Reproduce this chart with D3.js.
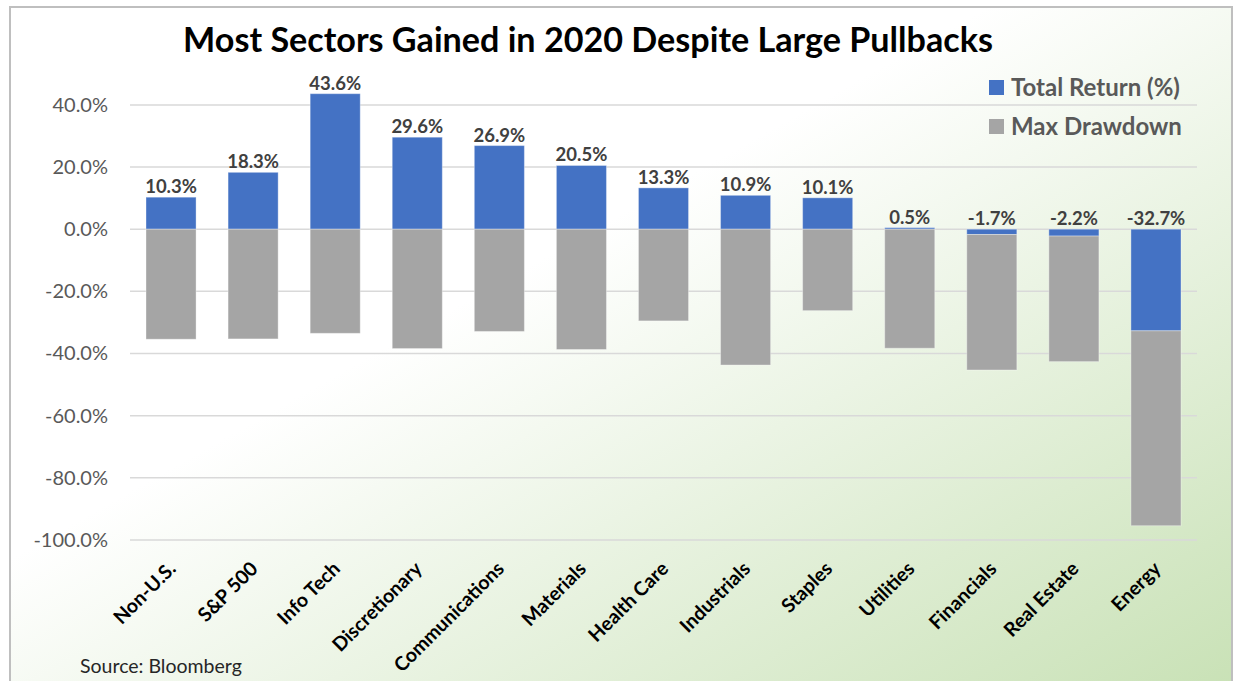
<!DOCTYPE html>
<html>
<head>
<meta charset="utf-8">
<script src="https://cdn.jsdelivr.net/npm/d3@7"></script>
<style>
  html, body { margin: 0; padding: 0; background: #fff; }
  svg { display: block; font-family: Lato, "Open Sans", sans-serif; }
</style>
</head>
<body>
<svg id="chart"></svg>
<script>
const categories = ["Non-U.S.", "S&P 500", "Info Tech", "Discretionary", "Communications", "Materials",
  "Health Care", "Industrials", "Staples", "Utilities", "Financials", "Real Estate", "Energy"];
// stacked segments: total return first, then the drawdown piece below it
const totalReturn = [10.3, 18.3, 43.6, 29.6, 26.9, 20.5, 13.3, 10.9, 10.1, 0.5, -1.7, -2.2, -32.7];
const maxDrawdown = [-35.4, -35.3, -33.5, -38.4, -32.9, -38.7, -29.5, -43.7, -26.2, -38.3, -43.6, -40.4, -62.7];
const seriesNames = ["Total Return (%)", "Max Drawdown"];
const yTicks = [-100, -80, -60, -40, -20, 0, 20, 40];

const width = 1239;
const height = 681;
const colors = ["#4472C4", "#A5A5A5"];

const svg = d3.select("#chart")
  .attr("width", width)
  .attr("height", height);

// background with the green corner
const defs = svg.append("defs");
const grad = defs.append("linearGradient")
  .attr("id", "bg")
  .attr("x1", 0).attr("y1", 0)
  .attr("x2", 1).attr("y2", 1);
grad.append("stop").attr("offset", 0).attr("stop-color", "#ffffff");
grad.append("stop").attr("offset", 0.4).attr("stop-color", "#ffffff");
grad.append("stop").attr("offset", 1).attr("stop-color", "#c8e1b5");

svg.append("rect")
  .attr("x", 10).attr("y", 7)
  .attr("width", 1222).attr("height", 690)
  .attr("fill", "url(#bg)")
  .attr("stroke", "#bfbfbf")
  .attr("stroke-width", 2);

// scales
const xScale = d3.scaleBand()
  .domain(categories)
  .range([130, 1197])
  .paddingInner(0.39)
  .paddingOuter(0.195);

const yScale = d3.scaleLinear()
  .domain([-100, 50])
  .range([540, 540 - 150 * 3.108]);

// grid lines
svg.append("g")
  .selectAll("line")
  .data(yTicks)
  .enter().append("line")
  .attr("x1", 130)
  .attr("x2", 1197)
  .attr("y1", d => yScale(d))
  .attr("y2", d => yScale(d))
  .attr("stroke", "#d9d9d9")
  .attr("stroke-width", 1.5);

// y axis labels
const yAxis = svg.append("g")
  .attr("transform", "translate(130, 0)")
  .call(d3.axisLeft(yScale).tickValues(yTicks).tickSize(0).tickPadding(22)
    .tickFormat(d => d.toFixed(1) + "%"));
yAxis.select(".domain").remove();
yAxis.selectAll(".tick text")
  .attr("fill", "#595959")
  .style("font-family", "Lato, sans-serif")
  .style("font-size", "20px");

// stacked bars
const table = categories.map((c, i) => ({ cat: c, total: totalReturn[i], drawdown: maxDrawdown[i] }));
const stack = d3.stack()
  .keys(["total", "drawdown"])
  .offset(d3.stackOffsetDiverging);
const layers = stack(table);

svg.append("g")
  .selectAll("g")
  .data(layers)
  .enter().append("g")
  .attr("fill", (d, i) => colors[i])
  .selectAll("rect")
  .data(d => d)
  .enter().append("rect")
  .attr("x", d => xScale(d.data.cat))
  .attr("width", xScale.bandwidth())
  .attr("y", d => yScale(Math.max(d[0], d[1])))
  .attr("height", d => Math.abs(yScale(d[0]) - yScale(d[1])))
  .attr("stroke", "rgba(255,255,255,0.35)")
  .attr("stroke-width", 1);

// data labels for total return
svg.append("g")
  .selectAll("text")
  .data(table)
  .enter().append("text")
  .attr("x", d => xScale(d.cat) + xScale.bandwidth() / 2)
  .attr("y", d => yScale(Math.max(d.total, 0)) - 4)
  .attr("text-anchor", "middle")
  .attr("fill", "#404040")
  .attr("font-weight", "bold")
  .style("font-size", "18.5px")
  .text(d => d.total.toFixed(1) + "%");

// category labels
svg.append("g")
  .selectAll("text")
  .data(categories)
  .enter().append("text")
  .attr("transform", d => `translate(${xScale(d) + xScale.bandwidth() / 2 + 6}, 570) rotate(-45)`)
  .attr("text-anchor", "end")
  .attr("fill", "#000")
  .attr("font-weight", "bold")
  .style("font-size", "19.5px")
  .text(d => d);

// title
const title = svg.append("text")
  .attr("x", 588)
  .attr("y", 52)
  .attr("text-anchor", "middle")
  .attr("font-weight", "bold")
  .attr("fill", "#000")
  .style("font-size", "34px")
  .text("Most Sectors Gained in 2020 Despite Large Pullbacks");
const tw = title.node().getComputedTextLength();
title.style("font-size", (34 * 810 / tw) + "px");

// legend
const legend = svg.append("g")
  .selectAll("g")
  .data(seriesNames)
  .enter().append("g")
  .attr("transform", (d, i) => `translate(989, ${80 + i * 39})`);
legend.append("rect")
  .attr("width", 15).attr("height", 15)
  .attr("fill", (d, i) => colors[i]);
legend.append("text")
  .attr("x", 22)
  .attr("y", 15.5)
  .attr("fill", "#595959")
  .attr("font-weight", "bold")
  .style("font-size", "24px")
  .text(d => d);

// source note
svg.append("text")
  .attr("x", 80)
  .attr("y", 673)
  .attr("fill", "#262626")
  .style("font-size", "19.5px")
  .text("Source: Bloomberg");
</script>
</body>
</html>
